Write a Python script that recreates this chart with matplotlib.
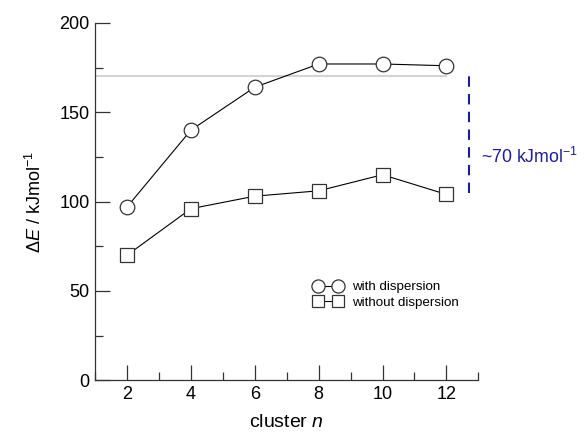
import matplotlib
matplotlib.use("Agg")
import matplotlib.pyplot as plt
from matplotlib.ticker import MultipleLocator

# data
cluster_n = [2, 4, 6, 8, 10, 12]
with_disp = [97, 140, 164, 177, 177, 176]
without_disp = [70, 96, 103, 106, 115, 104]
ref_level = 170
gap_top = 171
gap_bottom = 105
gap_text = "~70 kJmol$^{-1}$"

plt.rcParams['font.family'] = ['Liberation Sans', 'DejaVu Sans']
plt.rcParams['mathtext.fontset'] = 'custom'
plt.rcParams['mathtext.rm'] = 'Liberation Sans'
plt.rcParams['mathtext.it'] = 'Liberation Sans:italic'

fig = plt.figure(figsize=(5.84, 4.32), dpi=100)
ax = fig.add_axes([0.163, 0.12, 0.656, 0.827])

ax.plot([1, 12], [ref_level, ref_level], color='#d4d4d4', lw=1.5, zorder=1)

l1, = ax.plot(cluster_n, with_disp, 'k-', lw=0.8, marker='o', markersize=10.5,
              markerfacecolor='white', markeredgecolor='#333333', markeredgewidth=0.9, zorder=3)
l2, = ax.plot(cluster_n, without_disp, 'k-', lw=0.8, marker='s', markersize=10,
              markerfacecolor='white', markeredgecolor='#333333', markeredgewidth=0.9, zorder=3)

ax.plot([12.7, 12.7], [gap_bottom, gap_top], color='#1c1c96', lw=1.5,
        linestyle=(0, (5, 3.5)), clip_on=False)
ax.text(13.1, 125, gap_text, color='#1c1c96', fontsize=12.8, va='center', ha='left')

ax.set_xlim(1, 13)
ax.set_ylim(0, 200)
ax.xaxis.set_major_locator(MultipleLocator(2))
ax.xaxis.set_minor_locator(MultipleLocator(1))
ax.yaxis.set_major_locator(MultipleLocator(50))
ax.yaxis.set_minor_locator(MultipleLocator(25))
ax.tick_params(which='both', direction='in', color='#333333', labelsize=13)
ax.tick_params(which='major', length=11, width=0.9, pad=4)
ax.tick_params(which='minor', length=6, width=0.9)
ax.tick_params(top=False, right=False, which='both')

for s in ['top', 'right']:
    ax.spines[s].set_visible(False)
for s in ['left', 'bottom']:
    ax.spines[s].set_color('#333333')
    ax.spines[s].set_linewidth(0.9)

ax.set_xlabel('cluster $\\it{n}$', fontsize=14, labelpad=8)
ax.set_ylabel('$\\Delta$$\\it{E}$ / kJmol$^{-1}$', fontsize=13, labelpad=10)

ax.legend([l1, l2], ['with dispersion', 'without dispersion'], loc='center left',
          bbox_to_anchor=(0.54, 0.238), frameon=False, fontsize=9.6, numpoints=2,
          handlelength=2.1, handletextpad=0.75, labelspacing=0.25, markerscale=0.9,
          borderpad=0.4)

fig.savefig('out.png', dpi=100)
